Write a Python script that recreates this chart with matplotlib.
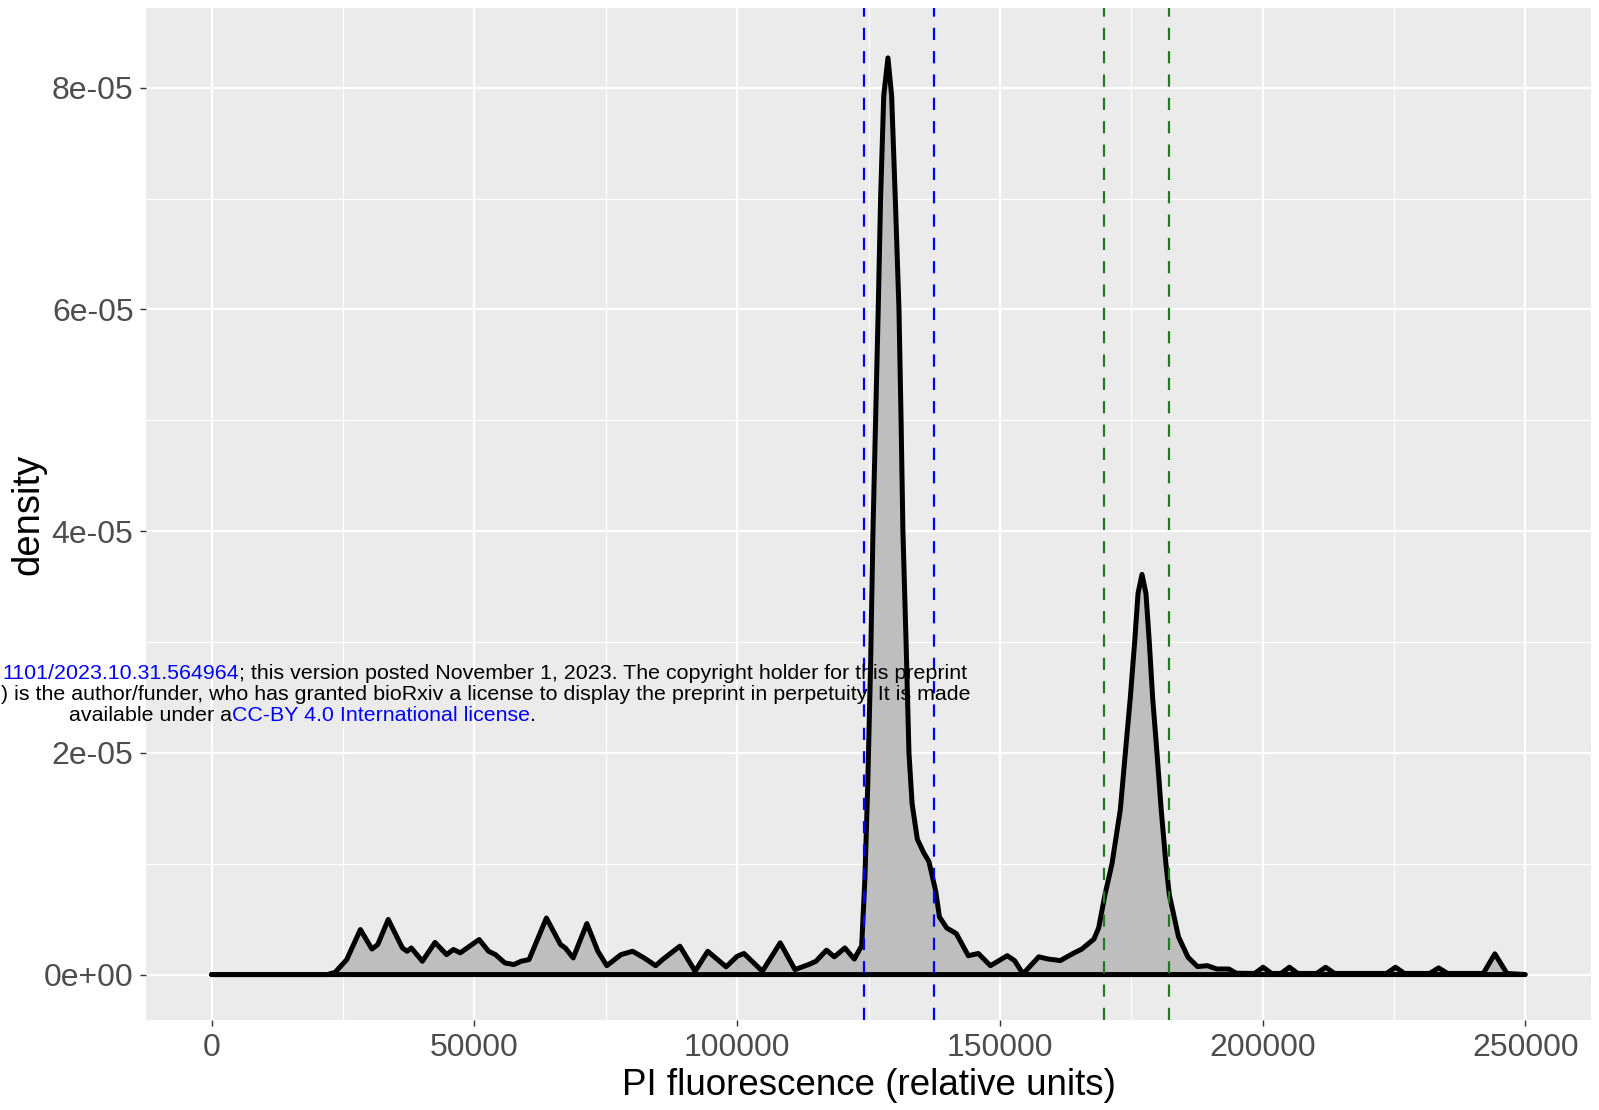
import matplotlib
matplotlib.use("Agg")
import matplotlib.pyplot as plt
from matplotlib import font_manager
from matplotlib.ticker import MultipleLocator, FixedLocator

# density curve (x in relative units, y in 1e-6)
pi_x = [0, 22000, 23500, 25700, 28300, 30500, 31600, 33600, 36300, 37200, 38000, 40100,
        42500, 44700, 46000, 47300, 50900, 52700, 54000, 55800, 57500, 58900, 60400,
        63700, 66400, 67300, 68800, 71400, 73500, 75200, 77900, 80100, 82300, 84500,
        85800, 89100, 92000, 94400, 97900, 100000, 101300, 104800, 108200, 111000,
        113600, 115000, 117000, 118500, 120500, 122300, 123700, 124300, 124850, 125400,
        125850, 126350, 126850, 127300, 127900, 128700, 129400, 130100, 130800, 131200,
        131550, 132150, 132700, 133300, 134300, 135500, 136500, 137800, 138500, 139900,
        141700, 144000, 145900, 148200, 151400, 152800, 154400, 157400, 159200, 161500,
        163800, 165600, 167900, 168800, 170000, 171340, 172930, 173880, 174830, 175650,
        176300, 177050, 177800, 178440, 179070, 179900, 180700, 181600, 182250, 184000,
        185800, 187600, 189500, 191300, 193600, 195000, 198500, 200100, 201700, 203500,
        205100, 206700, 210300, 212000, 213700, 223600, 225300, 227000, 231800, 233500,
        235200, 242000, 244200, 246500, 250000]
density_e6 = [0, 0, 0.2, 1.35, 4.06, 2.3, 2.7, 4.97, 2.4, 2.1, 2.4, 1.2,
              2.9, 1.8, 2.26, 1.96, 3.16, 2.1, 1.8, 1.05, 0.9, 1.2, 1.35,
              5.1, 2.7, 2.4, 1.5, 4.6, 2.1, 0.8, 1.8, 2.1, 1.5, 0.8,
              1.35, 2.56, 0.3, 2.1, 0.7, 1.65, 1.9, 0.3, 2.86, 0.45,
              0.9, 1.2, 2.2, 1.6, 2.4, 1.4, 2.6, 8.5, 17, 28,
              40, 50, 60, 70, 79.3, 82.7, 79.3, 70, 60, 50,
              40, 30, 20, 15.4, 12.2, 11, 10.2, 7.5, 5.2, 4.2,
              3.7, 1.7, 1.9, 0.8, 1.7, 1.26, 0.06, 1.6, 1.4, 1.26,
              1.87, 2.3, 3.2, 4.2, 7.2, 10, 14.9, 20, 25, 30,
              34.4, 36.1, 34.4, 30, 25, 20, 14.9, 10, 7.2, 3.4,
              1.57, 0.72, 0.8, 0.5, 0.5, 0.12, 0.1, 0.66, 0.1, 0.1,
              0.66, 0.1, 0.1, 0.66, 0.1, 0.1, 0.66, 0.1, 0.1, 0.6,
              0.1, 0.1, 1.87, 0.1, 0]
density = [v * 1e-6 for v in density_e6]

blue_gates = [124150, 137450]
green_gates = [169900, 182250]

x_ticks = [0, 50000, 100000, 150000, 200000, 250000]
y_ticks = [0, 2e-5, 4e-5, 6e-5, 8e-5]
y_tick_labels = ["0e+00", "2e-05", "4e-05", "6e-05", "8e-05"]

names = {f.name for f in font_manager.fontManager.ttflist}
if "Liberation Sans Narrow" in names:
    tick_font, tick_size = "Liberation Sans Narrow", 27
else:
    tick_font, tick_size = "Liberation Sans", 23
plt.rcParams["font.family"] = ["Liberation Sans", "DejaVu Sans"]

fig = plt.figure(figsize=(15.99, 11.10), dpi=100)
ax = fig.add_axes([146 / 1599, 1 - 1020 / 1110, 1445 / 1599, 1012 / 1110])
ax.set_facecolor("#EBEBEB")
for s in ax.spines.values():
    s.set_visible(False)

ax.set_xlim(-12500, 262500)
ax.set_ylim(-4.1e-6, 8.72e-5)
ax.xaxis.set_major_locator(FixedLocator(x_ticks))
ax.xaxis.set_minor_locator(MultipleLocator(25000))
ax.yaxis.set_major_locator(FixedLocator(y_ticks))
ax.yaxis.set_minor_locator(MultipleLocator(1e-5))
ax.set_xticklabels([str(t) for t in x_ticks])
ax.set_yticklabels(y_tick_labels)
ax.grid(which="major", color="white", linewidth=1.6)
ax.grid(which="minor", color="white", linewidth=0.8)
ax.set_axisbelow(True)
ax.tick_params(which="major", length=4, width=1, color="#333333", pad=5,
               labelcolor="#4D4D4D", labelsize=tick_size)
ax.tick_params(which="minor", length=0)
for lab in ax.get_xticklabels() + ax.get_yticklabels():
    lab.set_family(tick_font)

ax.fill(pi_x, density, facecolor="#BEBEBE", edgecolor="black", linewidth=3.6,
        joinstyle="round", zorder=2)

for g in blue_gates:
    ax.axvline(g, color="#0000FF", linewidth=1.6, linestyle=(0, (5.5, 5)), zorder=3)
for g in green_gates:
    ax.axvline(g, color="#1E7B1E", linewidth=1.6, linestyle=(0, (5.5, 5)), zorder=3)

ax.set_xlabel("PI fluorescence (relative units)", fontsize=26.5, color="black", labelpad=4)
ax.set_ylabel("density", fontsize=27.5, color="black")
ax.yaxis.set_label_coords((46 - 146) / 1445, 0.5)

# bioRxiv watermark (only the part visible in the figure)
wm_size = 15.4
t1 = fig.text(2 / 1599, 1 - 679 / 1110, "1101/2023.10.31.564964",
              ha="left", va="baseline", color="#0000FF", fontsize=wm_size)
ax.annotate("; this version posted November 1, 2023. The copyright holder for this preprint",
            xy=(1, 0), xycoords=t1, ha="left", va="bottom", color="black",
            fontsize=wm_size, annotation_clip=False)
fig.text(1 / 1599, 1 - 700 / 1110,
         ") is the author/funder, who has granted bioRxiv a license to display "
         "the preprint in perpetuity. It is made",
         ha="left", va="baseline", color="black", fontsize=wm_size)
t3 = fig.text(69 / 1599, 1 - 721 / 1110, "available under a", ha="left",
              va="baseline", color="black", fontsize=wm_size)
t4 = ax.annotate("CC-BY 4.0 International license", xy=(1, 0), xycoords=t3,
                 ha="left", va="bottom", color="#0000FF", fontsize=wm_size,
                 annotation_clip=False)
ax.annotate(".", xy=(1, 0), xycoords=t4, ha="left", va="bottom", color="black",
            fontsize=wm_size, annotation_clip=False)

fig.savefig("out.png", dpi=100)
